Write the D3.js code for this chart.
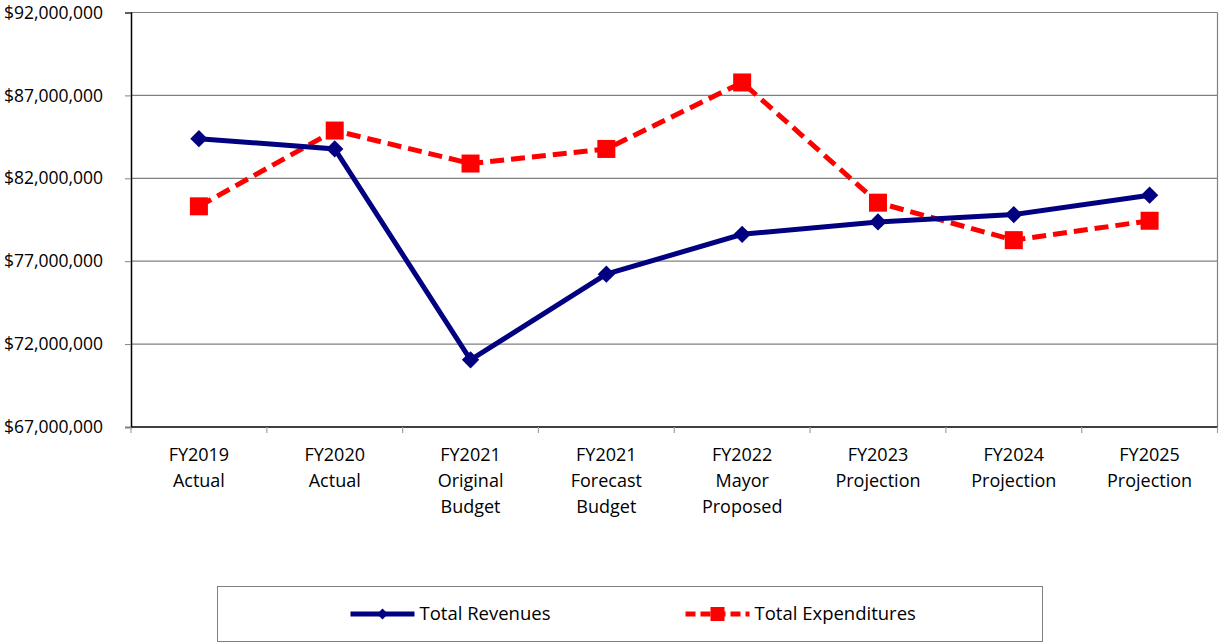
<!DOCTYPE html>
<html>
<head>
<meta charset="utf-8">
<script src="https://cdn.jsdelivr.net/npm/d3@7"></script>
<style>
  body { margin: 0; background: #fff; }
  svg text { font-family: "Open Sans", "Noto Sans", sans-serif; fill: #000; }
</style>
</head>
<body>
<div id="chart"></div>
<script>
// chart data
var categories = [
    ["FY2019", "Actual"],
    ["FY2020", "Actual"],
    ["FY2021", "Original", "Budget"],
    ["FY2021", "Forecast", "Budget"],
    ["FY2022", "Mayor", "Proposed"],
    ["FY2023", "Projection"],
    ["FY2024", "Projection"],
    ["FY2025", "Projection"]
];
var revenues = [84390000, 83770000, 71050000, 76220000, 78620000, 79370000, 79810000, 80980000];
var expenditures = [80310000, 84880000, 82890000, 83770000, 87780000, 80530000, 78270000, 79440000];
var yTicks = [67000000, 72000000, 77000000, 82000000, 87000000, 92000000];
var seriesNames = ["Total Revenues", "Total Expenditures"];

var W = 1219, H = 644;
var margin = {top: 12.5, right: 1.5, bottom: 217, left: 131};
var width = W - margin.left - margin.right,
    height = H - margin.top - margin.bottom;

var svg = d3.select("#chart")
    .append("svg")
    .attr("width", W)
    .attr("height", H);

var g = svg.append("g")
    .attr("transform", "translate(" + margin.left + "," + margin.top + ")");

var x = d3.scaleBand()
    .domain(d3.range(categories.length))
    .range([0, width]);
var y = d3.scaleLinear()
    .domain([67000000, 92000000])
    .range([height, 0]);

// gridlines
g.selectAll(".grid")
    .data(yTicks.slice(1))
    .enter()
    .append("line")
    .attr("x1", 0)
    .attr("x2", width)
    .attr("y1", function (d) { return y(d); })
    .attr("y2", function (d) { return y(d); })
    .attr("stroke", "#808080")
    .attr("stroke-width", 1.2);

// right border
g.append("line")
    .attr("x1", width).attr("x2", width)
    .attr("y1", 0).attr("y2", height)
    .attr("stroke", "#808080")
    .attr("stroke-width", 1.2);

// y axis
var yAxis = g.append("g")
    .call(d3.axisLeft(y)
        .tickValues(yTicks)
        .tickSize(6)
        .tickPadding(8)
        .tickFormat(function (d) { return "$" + d3.format(",")(d); }));
yAxis.select(".domain").attr("stroke", "#000").attr("stroke-width", 1.5);
yAxis.selectAll(".tick line").attr("stroke", "#808080");
yAxis.selectAll(".tick text")
    .attr("font-size", 17.5)
    .attr("x", -28)
    .attr("text-anchor", "end");

// x axis
var xAxisG = g.append("g")
    .attr("transform", "translate(0," + height + ")");
xAxisG.append("line")
    .attr("x1", 0).attr("x2", width)
    .attr("stroke", "#000")
    .attr("stroke-width", 1.5);
xAxisG.selectAll(".xtick")
    .data(d3.range(categories.length + 1))
    .enter()
    .append("line")
    .attr("x1", function (d) { return d * x.step(); })
    .attr("x2", function (d) { return d * x.step(); })
    .attr("y1", 0)
    .attr("y2", 6)
    .attr("stroke", "#a0a0a0")
    .attr("stroke-width", 1.2);
var labels = xAxisG.selectAll(".xlabel")
    .data(categories)
    .enter()
    .append("text")
    .attr("text-anchor", "middle")
    .attr("font-size", 18)
    .attr("transform", function (d, i) {
        return "translate(" + (x(i) + x.bandwidth() / 2) + ",34)";
    });
labels.selectAll("tspan")
    .data(function (d) { return d; })
    .enter()
    .append("tspan")
    .attr("x", 0)
    .attr("dy", function (d, i) { return i === 0 ? 0 : 26; })
    .text(function (d) { return d; });

var line = d3.line()
    .x(function (d, i) { return x(i) + x.bandwidth() / 2; })
    .y(function (d) { return y(d); });

// expenditures (dashed red, squares)
g.append("path")
    .datum(expenditures)
    .attr("d", line)
    .attr("fill", "none")
    .attr("stroke", "#ff0000")
    .attr("stroke-width", 5)
    .attr("stroke-dasharray", "14,7");

// revenues (navy, diamonds)
g.append("path")
    .datum(revenues)
    .attr("d", line)
    .attr("fill", "none")
    .attr("stroke", "#000080")
    .attr("stroke-width", 5);

var diamond = d3.symbol().type(d3.symbolSquare).size(150);

g.selectAll(".rev")
    .data(revenues)
    .enter()
    .append("path")
    .attr("d", diamond)
    .attr("fill", "#000080")
    .attr("transform", function (d, i) {
        return "translate(" + (x(i) + x.bandwidth() / 2) + "," + y(d) + ") rotate(45)";
    });

g.selectAll(".exp")
    .data(expenditures)
    .enter()
    .append("rect")
    .attr("x", function (d, i) { return x(i) + x.bandwidth() / 2 - 9; })
    .attr("y", function (d) { return y(d) - 9; })
    .attr("width", 18)
    .attr("height", 18)
    .attr("fill", "#ff0000");

// legend
var legend = svg.append("g").attr("transform", "translate(217.5,586.5)");
legend.append("rect")
    .attr("width", 825)
    .attr("height", 55)
    .attr("fill", "#fff")
    .attr("stroke", "#808080")
    .attr("stroke-width", 1);

var lg1 = legend.append("g").attr("transform", "translate(133,27.5)");
lg1.append("line")
    .attr("x1", 0).attr("x2", 64)
    .attr("stroke", "#000080").attr("stroke-width", 5);
lg1.append("path")
    .attr("d", d3.symbol().type(d3.symbolSquare).size(60))
    .attr("fill", "#000080")
    .attr("transform", "translate(32,0) rotate(45)");
lg1.append("text")
    .attr("x", 69).attr("y", 6)
    .attr("font-size", 18.5)
    .text(seriesNames[0]);

var lg2 = legend.append("g").attr("transform", "translate(468,27.5)");
lg2.append("line")
    .attr("x1", 0).attr("x2", 64)
    .attr("stroke", "#ff0000").attr("stroke-width", 5)
    .attr("stroke-dasharray", "10,5");
lg2.append("rect")
    .attr("x", 25).attr("y", -7)
    .attr("width", 14).attr("height", 14)
    .attr("fill", "#ff0000");
lg2.append("text")
    .attr("x", 69).attr("y", 6)
    .attr("font-size", 18.5)
    .text(seriesNames[1]);
</script>
</body>
</html>
